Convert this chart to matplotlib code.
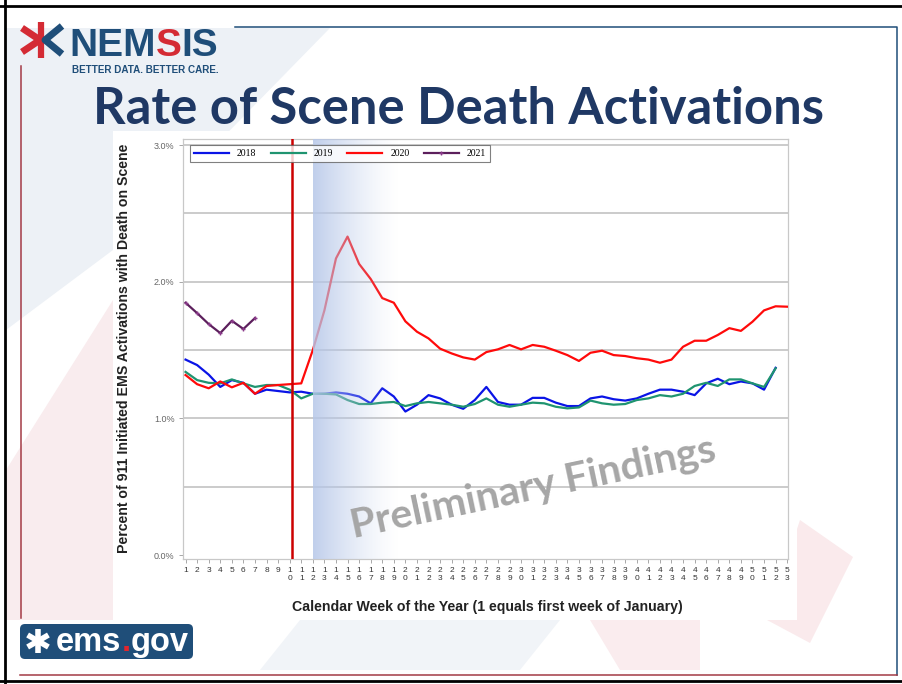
import numpy as np
import matplotlib
matplotlib.use('Agg')
import matplotlib.pyplot as plt
from matplotlib import font_manager as fm
from matplotlib.patches import Rectangle, Polygon, FancyBboxPatch

# weekly rate (%) of 911 EMS activations with death on scene
weeks = list(range(1, 54))
rate_2018 = [1.43, 1.39, 1.32, 1.23, 1.28, 1.26, 1.18, 1.21, 1.20, 1.19,
             1.195, 1.18, 1.18, 1.19, 1.18, 1.16, 1.11, 1.22, 1.16, 1.05,
             1.10, 1.17, 1.146, 1.10, 1.07, 1.134, 1.23, 1.12, 1.10, 1.10,
             1.15, 1.15, 1.115, 1.09, 1.09, 1.146, 1.16, 1.14, 1.13, 1.146,
             1.18, 1.21, 1.21, 1.195, 1.17, 1.256, 1.29, 1.25, 1.27, 1.256,
             1.21, 1.37]
rate_2019 = [1.34, 1.28, 1.26, 1.256, 1.285, 1.256, 1.23, 1.244, 1.244, 1.21,
             1.146, 1.18, 1.18, 1.175, 1.134, 1.105, 1.105, 1.115, 1.12, 1.09,
             1.11, 1.12, 1.11, 1.10, 1.085, 1.105, 1.146, 1.10, 1.085, 1.10,
             1.115, 1.11, 1.085, 1.073, 1.08, 1.13, 1.11, 1.10, 1.105, 1.134,
             1.146, 1.17, 1.16, 1.18, 1.237, 1.26, 1.237, 1.285, 1.285, 1.256,
             1.23, 1.366]
rate_2020 = [1.317, 1.25, 1.22, 1.27, 1.227, 1.26, 1.18, 1.237, 1.244, 1.25,
             1.256, 1.50, 1.79, 2.17, 2.33, 2.13, 2.02, 1.88, 1.846, 1.71,
             1.634, 1.585, 1.51, 1.475, 1.446, 1.43, 1.485, 1.505, 1.537, 1.505,
             1.537, 1.524, 1.495, 1.463, 1.42, 1.48, 1.495, 1.463, 1.456, 1.44,
             1.43, 1.407, 1.43, 1.524, 1.568, 1.568, 1.61, 1.66, 1.64, 1.707,
             1.79, 1.82, 1.817]
rate_2021 = [1.846, 1.77, 1.69, 1.624, 1.714, 1.654, 1.734]

week_labels = ['\n'.join(str(w)) for w in weeks]
y_ticks = [0, 1, 2, 3]
y_tick_labels = ['0.0%', '1.0%', '2.0%', '3.0%']
grid_levels = [0.5, 1.0, 1.5, 2.0, 2.5, 3.0]

declared_week = 10.2      # red marker line
shade_start, shade_end = 12.05, 19.5


def have(name):
    try:
        fm.findfont(fm.FontProperties(family=name), fallback_to_default=False)
        return True
    except ValueError:
        return False


sans = 'Liberation Sans'
narrow = 'Liberation Sans Narrow' if have('Liberation Sans Narrow') else sans
title_font = 'Lato' if have('Lato') else 'Open Sans'

fig = plt.figure(figsize=(9.03, 6.84), dpi=100)
fig.patch.set_facecolor('white')

# slide background in pixel coordinates
bg = fig.add_axes([0, 0, 1, 1])
bg.set_xlim(0, 903)
bg.set_ylim(684, 0)
bg.axis('off')

bg.add_patch(Polygon([(6, 28), (330, 28), (113, 250), (6, 330)], color='#edf1f6', lw=0))
bg.add_patch(Polygon([(6, 470), (113, 300), (113, 620), (6, 620)], color='#f9ecee', lw=0))
bg.add_patch(Polygon([(800, 520), (853, 557), (810, 643), (767, 620)], color='#faeaec', lw=0))
bg.add_patch(Polygon([(300, 620), (560, 620), (520, 670), (260, 670)], color='#f1f4f8', lw=0))
bg.add_patch(Polygon([(590, 620), (700, 620), (700, 670), (620, 670)], color='#faecee', lw=0))

# frame lines
bg.plot([0, 903], [6, 6], color='black', lw=2)
bg.plot([5, 5], [0, 684], color='black', lw=2)
bg.plot([0, 903], [681, 681], color='black', lw=2)
bg.plot([235, 897, 897], [27, 27, 675], color='#1f4e79', lw=1.1)
bg.plot([20, 897], [675, 675], color='#a33a45', lw=1.1)
bg.plot([21, 21], [66, 618], color='#a33a45', lw=1.1)

# chart panel
bg.add_patch(Rectangle((113, 131), 684, 489, color='white', lw=0))

# NEMSIS logo
bg.plot([41, 41], [22, 58], color='#d42b34', lw=4.5, solid_capstyle='butt')
bg.plot([22, 40, 22], [28, 40, 52], color='#d42b34', lw=5, solid_capstyle='butt')
bg.plot([62, 45, 62], [26, 40, 54], color='#1f4e79', lw=5, solid_capstyle='butt')

r = fig.canvas.get_renderer()


def chain(parts, x, y, **kw):
    for s, c in parts:
        t = bg.text(x, y, s, color=c, ha='left', va='baseline', **kw)
        x += t.get_window_extent(renderer=r).width


chain([('NEM', '#1f4e79'), ('S', '#d42b34'), ('IS', '#1f4e79')], 69, 56,
      fontsize=33 if narrow != sans else 28, family=narrow, weight='bold')
bg.text(72, 73, 'BETTER DATA. BETTER CARE.', color='#1f4e79', fontsize=7.1,
        family=narrow, weight='bold', ha='left', va='baseline')

# ems.gov logo
bg.add_patch(FancyBboxPatch((20, 624), 173, 35, boxstyle='round,pad=0,rounding_size=5',
                            color='#1f4e79', lw=0))
for ang in (90, 30, -30):
    a = np.deg2rad(ang)
    bg.plot([38 - 12 * np.cos(a), 38 + 12 * np.cos(a)],
            [641 - 12 * np.sin(a), 641 + 12 * np.sin(a)], color='white', lw=4,
            solid_capstyle='butt')
chain([('ems', 'white'), ('.', '#e0262e'), ('gov', 'white')], 56, 651,
      fontsize=23.5, family=sans, weight='bold')

# title
fig.text(459 / 903, 1 - 110 / 684, 'Rate of Scene Death Activations', ha='center',
         va='center', fontsize=36.5, weight='bold', color='#1f3864', family=title_font)

# chart
ax = fig.add_axes([183 / 903, 1 - 559 / 684, 605 / 903, 420 / 684])
ax.set_facecolor('white')
for lvl in grid_levels:
    ax.axhline(lvl, color='#bdbdbd', lw=1.1, zorder=1)

ax.plot(weeks[:52], rate_2018, color='#0a14e6', lw=1.6, label='2018', zorder=3)
ax.plot(weeks[:52], rate_2019, color='#1f9470', lw=1.6, label='2019', zorder=3)
ax.plot(weeks, rate_2020, color='#ff0a0a', lw=1.6, label='2020', zorder=3)
ax.plot(weeks[:7], rate_2021, color='#5c1f5c', lw=1.6, marker='+', ms=3,
        mec='#8a3a8a', label='2021', zorder=3)

ax.axvline(declared_week, color='#cc0000', lw=1.8, zorder=5)

grad = np.zeros((1, 256, 4))
grad[..., :3] = [0.71, 0.78, 0.91]
t = np.linspace(0, 1, 256)
grad[0, :, 3] = 0.85 * (1 - t) ** 1.4
y0, y1 = -0.029, 3.044
ax.imshow(grad, extent=[shade_start, shade_end, y0, y1], aspect='auto',
          interpolation='bilinear', zorder=4)

ax.set_xlim(0.78, 53.07)
ax.set_ylim(y0, y1)
ax.set_xticks(weeks)
ax.set_xticklabels(week_labels, fontsize=6, family=sans, color='#333333',
                   linespacing=1.05)
ax.set_yticks(y_ticks)
ax.set_yticklabels(y_tick_labels, fontsize=6.5, family=sans, color='#666666')
ax.tick_params(axis='both', length=3, width=0.6, color='#9a9a9a', pad=3)
for s in ax.spines.values():
    s.set_color('#c8c8c8')
    s.set_linewidth(0.9)

leg = ax.legend(loc='lower left', bbox_to_anchor=(0.003, 0.933, 0.513, 0.05),
                mode='expand', ncol=4, frameon=True, fancybox=False,
                edgecolor='#606060', prop={'family': 'Liberation Serif', 'size': 7},
                handlelength=3.6, borderpad=0.45, handletextpad=0.8)
leg.get_frame().set_linewidth(0.8)
leg.set_zorder(10)

fig.text(487 / 903, 1 - 607 / 684,
         'Calendar Week of the Year (1 equals first week of January)',
         ha='center', va='center', fontsize=10.2, weight='bold', family=sans,
         color='#222222')
fig.text(124 / 903, 1 - 348 / 684,
         'Percent of 911 Initiated EMS Activations with Death on Scene',
         ha='center', va='center', rotation=90, fontsize=10.2, weight='bold',
         family=sans, color='#222222')

# watermark
fig.text(533 / 903, 1 - 488 / 684, 'Preliminary Findings', ha='center', va='center',
         rotation=12, rotation_mode='anchor', fontsize=29.5, weight='bold',
         color='#a6a6a6', family=title_font, zorder=20)

fig.savefig('out.png', dpi=100)
